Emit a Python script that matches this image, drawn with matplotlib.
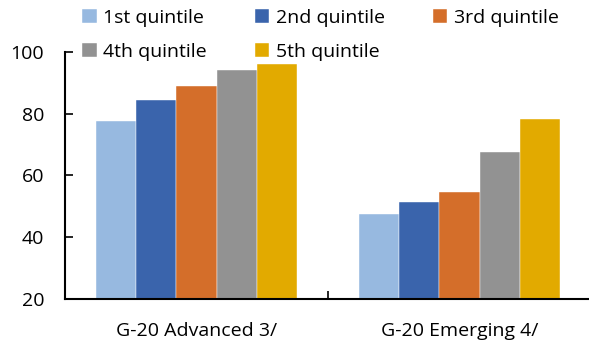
import numpy as np
import matplotlib
matplotlib.use('Agg')
import matplotlib.pyplot as plt

# Dữ liệu: tỷ lệ theo nhóm ngũ phân vị thu nhập
groups = ['G-20 Advanced 3/', 'G-20 Emerging 4/']
quintiles = ['1st quintile', '2nd quintile', '3rd quintile', '4th quintile', '5th quintile']
advanced = [77.5, 84.5, 88.9, 94.0, 96.0]
emerging = [47.5, 51.3, 54.5, 67.4, 78.1]
colors = ['#97B9E0', '#3A64AC', '#D46E2A', '#929292', '#E2AA00']

plt.rcParams['font.family'] = ['Open Sans', 'DejaVu Sans']
plt.rcParams['font.size'] = 14

fig = plt.figure(figsize=(5.89, 3.43), dpi=100)
ax = fig.add_axes([65 / 589, 1 - 298.5 / 343, 526 / 589, 246.5 / 343])

x = np.arange(len(groups))
width = 0.153
bars = []
for i, q in enumerate(quintiles):
    vals = [advanced[i], emerging[i]]
    b = ax.bar(x + (i - 2) * width, np.array(vals) - 20, width, bottom=20,
               color=colors[i], label=q, edgecolor='white', linewidth=0.3)
    bars.append(b)

ax.set_xlim(-0.5, 1.5)
ax.set_ylim(20, 100)
ax.set_yticks([20, 40, 60, 80, 100])
ax.set_xticks(x)
ax.set_xticklabels(groups)
ax.set_xticks([0.5], minor=True)

for s in ['top', 'right']:
    ax.spines[s].set_visible(False)
for s in ['left', 'bottom']:
    ax.spines[s].set_linewidth(1.5)
    ax.spines[s].set_color('black')

ax.tick_params(axis='y', direction='in', length=6, width=1.2, pad=15)
ax.tick_params(axis='x', which='major', length=0, pad=17)
ax.tick_params(axis='x', which='minor', direction='in', length=6, width=1.2)

# chú giải xếp theo hàng: 1st 2nd 3rd / 4th 5th
order = [0, 3, 1, 4, 2]
fig.legend([bars[i] for i in order], [quintiles[i] for i in order],
           loc='upper left', bbox_to_anchor=(82 / 589, 1 - 9 / 343), ncol=3,
           frameon=False, handlelength=0.75, handleheight=0.75,
           handletextpad=0.35, columnspacing=2.45, labelspacing=0.8,
           borderaxespad=0, borderpad=0)

fig.savefig('out.png', dpi=100)
